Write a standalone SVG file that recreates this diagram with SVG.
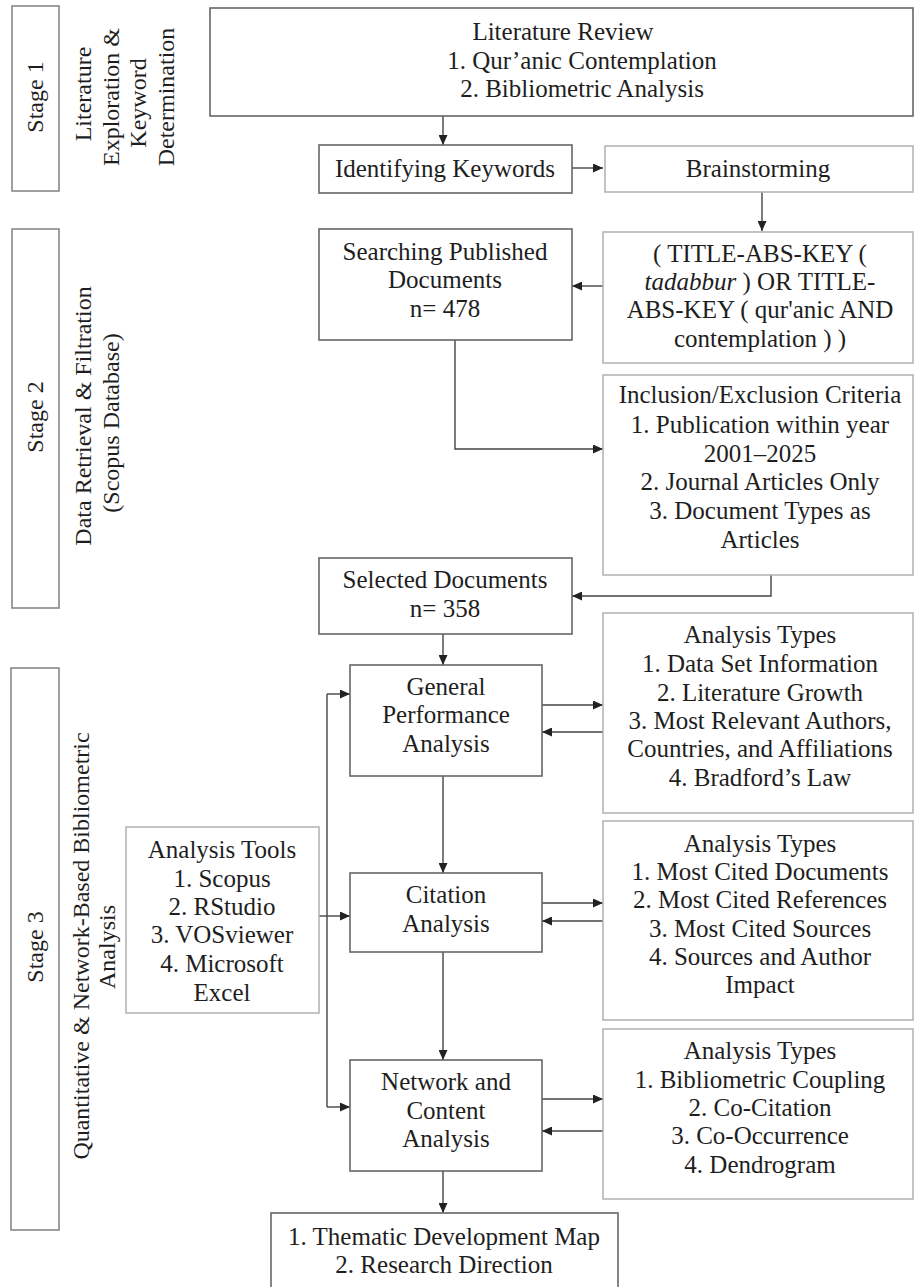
<svg xmlns="http://www.w3.org/2000/svg" width="915" height="1287" viewBox="0 0 915 1287">
<defs>
<marker id="ah" markerUnits="userSpaceOnUse" markerWidth="11" markerHeight="9" refX="10" refY="4.5" orient="auto">
<path d="M0,0 L10,4.5 L0,9 z" fill="#222"/>
</marker>
<style>
text{font-family:"Liberation Serif","Times New Roman",serif;font-size:25px;fill:#1e1e1e;text-anchor:middle}
.v{font-size:24px}
.main{fill:#fff;stroke:#666;stroke-width:1.6}
.side{fill:#fff;stroke:#b0b0b0;stroke-width:1.5}
.stage{fill:#fff;stroke:#888;stroke-width:1.6}
.c{fill:none;stroke:#444;stroke-width:1.4}
.ca{fill:none;stroke:#444;stroke-width:1.4;marker-end:url(#ah)}
</style>
</defs>
<rect width="915" height="1287" fill="#fff"/>

<g id="stage1">
<rect class="stage" x="12" y="6" width="47" height="185"/>
<text class="v" transform="rotate(-90 43 97)" x="43" y="97">Stage 1</text>
<text class="v" transform="rotate(-90 91 94)" x="91" y="94">Literature</text>
<text class="v" transform="rotate(-90 119 97)" x="119" y="97">Exploration &amp;</text>
<text class="v" transform="rotate(-90 146 103)" x="146" y="103">Keyword</text>
<text class="v" transform="rotate(-90 174 97)" x="174" y="97">Determination</text>
</g>

<g id="stage2">
<rect class="stage" x="12" y="229" width="47" height="379"/>
<text class="v" transform="rotate(-90 43 417)" x="43" y="417">Stage 2</text>
<text class="v" transform="rotate(-90 91 416)" x="91" y="416">Data Retrieval &amp; Filtration</text>
<text class="v" transform="rotate(-90 119 423)" x="119" y="423">(Scopus Database)</text>
</g>

<g id="stage3">
<rect class="stage" x="11" y="668" width="48" height="562"/>
<text class="v" transform="rotate(-90 43 947)" x="43" y="947">Stage 3</text>
<text class="v" transform="rotate(-90 89 946)" x="89" y="946">Quantitative &amp; Network-Based Bibliometric</text>
<text class="v" transform="rotate(-90 115 947)" x="115" y="947">Analysis</text>
</g>

<g id="connectors">
<path class="ca" d="M443,116 V145"/>
<path class="ca" d="M572,168 H603"/>
<path class="ca" d="M762,192 V231"/>
<path class="ca" d="M603,286 H572"/>
<path class="ca" d="M455,340 V449 H603"/>
<path class="ca" d="M771,575 V596 H572"/>
<path class="ca" d="M443,634 V665"/>
<path class="ca" d="M542,705 H603"/>
<path class="ca" d="M603,732 H542"/>
<path class="ca" d="M443,776 V873"/>
<path class="ca" d="M542,903 H603"/>
<path class="ca" d="M603,921 H542"/>
<path class="ca" d="M443,952 V1060"/>
<path class="ca" d="M542,1099 H603"/>
<path class="ca" d="M603,1131 H542"/>
<path class="ca" d="M443,1171 V1213"/>
<path class="c" d="M327,694 V1107"/>
<path class="ca" d="M327,694 H350"/>
<path class="ca" d="M319,916 H350"/>
<path class="ca" d="M327,1107 H350"/>
</g>

<g id="literature-review">
<rect class="main" x="210" y="8" width="703" height="108"/>
<text x="563" y="40">Literature Review</text>
<text x="582" y="69">1. Qur’anic Contemplation</text>
<text x="582" y="97">2. Bibliometric Analysis</text>
</g>

<g id="identifying-keywords">
<rect class="main" x="319" y="145" width="253" height="48"/>
<text x="445" y="177">Identifying Keywords</text>
</g>

<g id="brainstorming">
<rect class="side" x="605" y="146" width="308" height="46"/>
<text x="758" y="177">Brainstorming</text>
</g>

<g id="query">
<rect class="side" x="603" y="232" width="310" height="131"/>
<text x="760" y="262">( TITLE-ABS-KEY (</text>
<text x="760" y="290"><tspan font-style="italic">tadabbur</tspan> ) OR TITLE-</text>
<text x="760" y="318">ABS-KEY ( qur'anic AND</text>
<text x="760" y="347">contemplation ) )</text>
</g>

<g id="searching">
<rect class="main" x="319" y="229" width="253" height="111"/>
<text x="445" y="260">Searching Published</text>
<text x="445" y="288">Documents</text>
<text x="445" y="317">n= 478</text>
</g>

<g id="criteria">
<rect class="side" x="603" y="375" width="310" height="200"/>
<text x="760" y="403">Inclusion/Exclusion Criteria</text>
<text x="760" y="433">1. Publication within year</text>
<text x="760" y="462">2001–2025</text>
<text x="760" y="490">2. Journal Articles Only</text>
<text x="760" y="519">3. Document Types as</text>
<text x="760" y="548">Articles</text>
</g>

<g id="selected">
<rect class="main" x="319" y="558" width="253" height="76"/>
<text x="445" y="588">Selected Documents</text>
<text x="445" y="617">n= 358</text>
</g>

<g id="general-performance">
<rect class="main" x="350" y="665" width="192" height="111"/>
<text x="446" y="695">General</text>
<text x="446" y="723">Performance</text>
<text x="446" y="752">Analysis</text>
</g>

<g id="types1">
<rect class="side" x="603" y="613" width="310" height="200"/>
<text x="760" y="643">Analysis Types</text>
<text x="760" y="672">1. Data Set Information</text>
<text x="760" y="701">2. Literature Growth</text>
<text x="760" y="729">3. Most Relevant Authors,</text>
<text x="760" y="757">Countries, and Affiliations</text>
<text x="760" y="786">4. Bradford’s Law</text>
</g>

<g id="tools">
<rect class="side" x="126" y="827" width="193" height="186"/>
<text x="222" y="858">Analysis Tools</text>
<text x="222" y="887">1. Scopus</text>
<text x="222" y="915">2. RStudio</text>
<text x="222" y="943">3. VOSviewer</text>
<text x="222" y="972">4. Microsoft</text>
<text x="222" y="1001">Excel</text>
</g>

<g id="citation">
<rect class="main" x="350" y="873" width="192" height="79"/>
<text x="446" y="903">Citation</text>
<text x="446" y="932">Analysis</text>
</g>

<g id="types2">
<rect class="side" x="603" y="821" width="310" height="199"/>
<text x="760" y="852">Analysis Types</text>
<text x="760" y="880">1. Most Cited Documents</text>
<text x="760" y="908">2. Most Cited References</text>
<text x="760" y="937">3. Most Cited Sources</text>
<text x="760" y="965">4. Sources and Author</text>
<text x="760" y="993">Impact</text>
</g>

<g id="network">
<rect class="main" x="350" y="1060" width="192" height="111"/>
<text x="446" y="1090">Network and</text>
<text x="446" y="1119">Content</text>
<text x="446" y="1147">Analysis</text>
</g>

<g id="types3">
<rect class="side" x="603" y="1029" width="310" height="170"/>
<text x="760" y="1059">Analysis Types</text>
<text x="760" y="1088">1. Bibliometric Coupling</text>
<text x="760" y="1116">2. Co-Citation</text>
<text x="760" y="1144">3. Co-Occurrence</text>
<text x="760" y="1173">4. Dendrogram</text>
</g>

<g id="final">
<rect class="main" x="271" y="1213" width="347" height="90"/>
<text x="444" y="1245">1. Thematic Development Map</text>
<text x="444" y="1273">2. Research Direction</text>
</g>
</svg>
